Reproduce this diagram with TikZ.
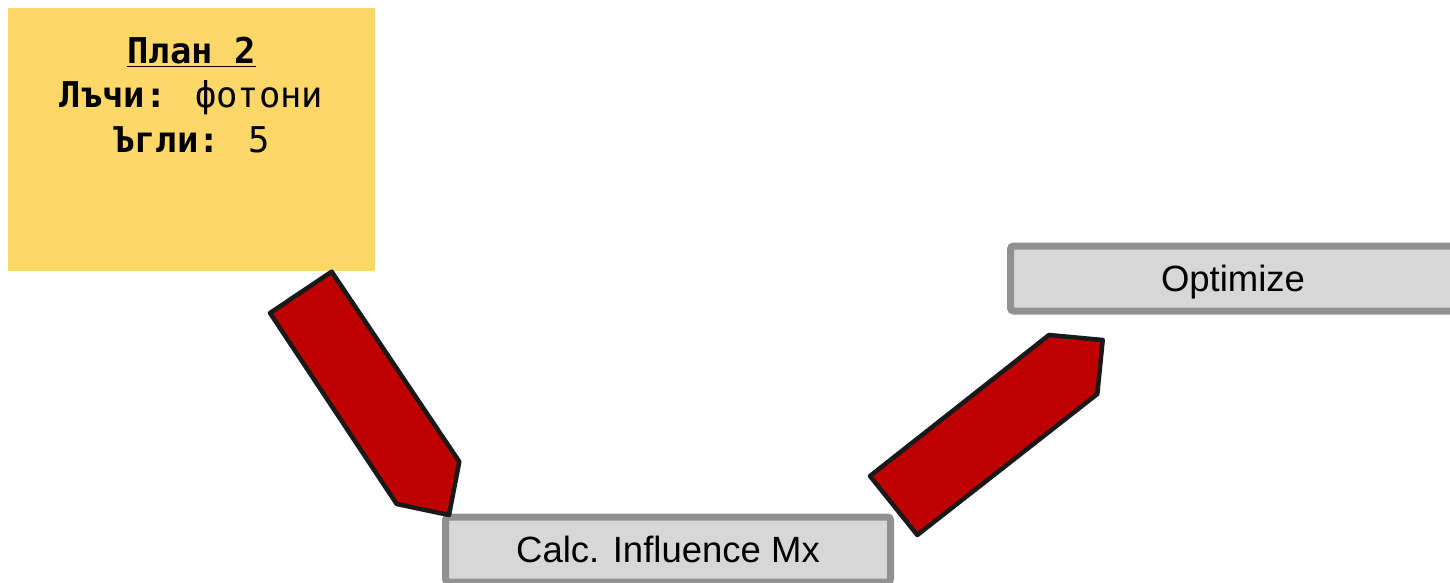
\documentclass[tikz,border=0pt]{standalone}
\usepackage{fontspec}
\setmainfont{Liberation Sans}
\newfontfamily\monof{DejaVu Sans Mono}
\definecolor{noteyellow}{RGB}{253,216,104}
\definecolor{boxfill}{RGB}{215,215,215}
\definecolor{boxedge}{RGB}{145,145,145}
\definecolor{arrowred}{RGB}{191,0,0}
\definecolor{arrowedge}{RGB}{25,25,25}
\tikzset{
  notebox/.style={fill=noteyellow, draw=none, minimum width=367pt, minimum height=263pt, inner sep=0pt},
  notetxt/.style={font=\monof\fontsize{35.5}{44}\selectfont, anchor=base, inner sep=0pt},
  stepbox/.style={fill=boxfill, draw=boxedge, line width=7pt, rounded corners=3pt,
    minimum width=445pt, minimum height=65pt, inner sep=0pt,
    text height=26pt, text depth=0pt,
    font=\fontsize{36.5}{40}\selectfont},
  blockarrow/.style={fill=arrowred, draw=arrowedge, line width=4.5pt, line join=round}
}
\begin{document}
\begin{tikzpicture}[x=1pt,y=-1pt]
\useasboundingbox (0,0) rectangle (1450,583);
\clip (0,0) rectangle (1450,583);
\node[notebox] (note) at (191.5,139.5) {};
\node[notetxt] (t1) at (191.5,64) {\textbf{\underline{План 2}}};
\node[notetxt] (t2) at (191.5,108) {\textbf{Лъчи:} фотони};
\node[notetxt] (t3) at (191.5,152) {\textbf{Ъгли:} 5};
\node[stepbox] (calc) at (668,549.5) {Calc. Influence Mx};
\node[stepbox] (opt) at (1233,278.5) {Optimize};
% block arrow from note to calc
\coordinate (a1) at (270,313);
\coordinate (a2) at (331.7,271.7);
\coordinate (a3) at (459.3,461.7);
\coordinate (a4) at (449,515);
\coordinate (a5) at (396.7,504);
\draw[blockarrow] (a1) -- (a2) -- (a3) -- (a4) -- (a5) -- cycle;
% block arrow from calc to optimize
\coordinate (b1) at (870,476);
\coordinate (b2) at (1049,335);
\coordinate (b3) at (1102.7,340);
\coordinate (b4) at (1097.3,394);
\coordinate (b5) at (917.3,535);
\draw[blockarrow] (b1) -- (b2) -- (b3) -- (b4) -- (b5) -- cycle;
\end{tikzpicture}
\end{document}
